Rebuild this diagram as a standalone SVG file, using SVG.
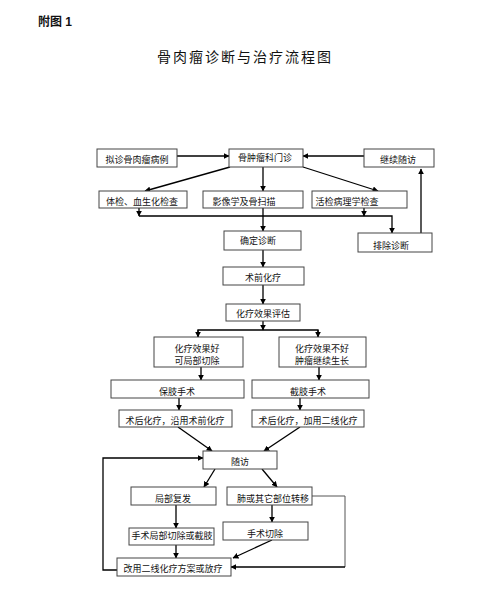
<svg xmlns="http://www.w3.org/2000/svg" width="491" height="609" viewBox="0 0 491 609">
<style>
.box{fill:#fff;stroke:#444;stroke-width:1}
.t{font-family:"Noto Sans CJK SC","Noto Sans",sans-serif;font-size:9px;fill:#111;text-anchor:middle}
.c{fill:none;stroke:#000;stroke-width:1.3}
.a{marker-end:url(#ah)}
</style>
<defs>
<marker id="ah" viewBox="0 0 10 10" refX="9" refY="5" markerWidth="6" markerHeight="6" markerUnits="userSpaceOnUse" orient="auto">
<path d="M0,0 L10,5 L0,10 z" fill="#000"/>
</marker>
</defs>
<rect width="491" height="609" fill="#fff"/>
<text x="38" y="26" style="font-family:'Liberation Sans','Noto Sans CJK SC',sans-serif;font-size:12px;font-weight:bold;fill:#111">附图 1</text>
<text x="245" y="62" class="t" style="font-size:14px;letter-spacing:2px">骨肉瘤诊断与治疗流程图</text>

<g id="connectors">
<line class="c a" x1="177" y1="156" x2="229" y2="156"/>
<line class="c a" x1="364" y1="156" x2="303" y2="156"/>
<line class="c a" x1="230" y1="167" x2="145" y2="191"/>
<line class="c a" x1="263" y1="167" x2="263" y2="191"/>
<line class="c a" x1="303" y1="167" x2="378" y2="191"/>
<line class="c a" x1="139" y1="208" x2="139" y2="216"/>
<line class="c a" x1="364" y1="208" x2="364" y2="216"/>
<polyline class="c a" points="139,216 392,216 392,233"/>
<line class="c a" x1="263" y1="208" x2="263" y2="231"/>
<line class="c a" x1="421" y1="233" x2="421" y2="169"/>
<line class="c a" x1="263" y1="250" x2="263" y2="267"/>
<line class="c a" x1="263" y1="285" x2="263" y2="304"/>
<line class="c a" x1="263" y1="321" x2="263" y2="330"/>
<polyline class="c" points="198,337 198,330 318,330 318,337"/>
<line class="c a" x1="198" y1="330" x2="198" y2="337"/>
<line class="c a" x1="318" y1="330" x2="318" y2="337"/>
<line class="c a" x1="201" y1="367" x2="201" y2="380"/>
<line class="c a" x1="319" y1="367" x2="319" y2="380"/>
<line class="c a" x1="179" y1="398" x2="179" y2="410"/>
<line class="c a" x1="300" y1="398" x2="300" y2="410"/>
<line class="c a" x1="178" y1="427" x2="212" y2="451"/>
<line class="c a" x1="300" y1="427" x2="264" y2="451"/>
<polyline class="c a" points="117,570 103,570 103,458 203,458"/>
<line class="c a" x1="215" y1="469" x2="204" y2="487"/>
<line class="c a" x1="262" y1="469" x2="277" y2="487"/>
<line class="c a" x1="176" y1="505" x2="176" y2="528"/>
<line class="c a" x1="272" y1="505" x2="272" y2="522"/>
<line class="c a" x1="176" y1="545" x2="176" y2="558"/>
<line class="c a" x1="272" y1="540" x2="233" y2="558"/>
<polyline class="c" points="312,496 345,496 345,567" style="stroke:#555;stroke-width:1"/>
<line class="c a" x1="345" y1="567" x2="231" y2="567" style="stroke-width:1.6"/>
</g>

<g id="n1"><rect class="box" x="97" y="149" width="80" height="18"/><text class="t" x="137" y="163">拟诊骨肉瘤病例</text></g>
<g id="n2"><rect class="box" x="229" y="149" width="74" height="18"/><text class="t" x="265" y="161">骨肿瘤科门诊</text></g>
<g id="n3"><rect class="box" x="364" y="149" width="70" height="18"/><text class="t" x="398" y="163">继续随访</text></g>
<g id="n4"><rect class="box" x="99" y="191" width="88" height="17"/><text class="t" x="142" y="205">体检、血生化检查</text></g>
<g id="n5"><rect class="box" x="203" y="191" width="100" height="17"/><text class="t" x="244" y="205">影像学及骨扫描</text></g>
<g id="n6"><rect class="box" x="312" y="191" width="95" height="17"/><text class="t" x="347" y="205">活检病理学检查</text></g>
<g id="n7"><rect class="box" x="224" y="231" width="77" height="19"/><text class="t" x="258" y="244">确定诊断</text></g>
<g id="n8"><rect class="box" x="358" y="233" width="74" height="19"/><text class="t" x="391" y="249">排除诊断</text></g>
<g id="n9"><rect class="box" x="223" y="267" width="81" height="18"/><text class="t" x="263" y="281">术前化疗</text></g>
<g id="n10"><rect class="box" x="226" y="304" width="74" height="17"/><text class="t" x="263" y="317">化疗效果评估</text></g>
<g id="n11"><rect class="box" x="154" y="337" width="89" height="30"/><text class="t" x="197" y="352">化疗效果好</text><text class="t" x="197" y="364">可局部切除</text></g>
<g id="n12"><rect class="box" x="279" y="337" width="87" height="30"/><text class="t" x="322" y="352">化疗效果不好</text><text class="t" x="322" y="364">肿瘤继续生长</text></g>
<g id="n13"><rect class="box" x="111" y="380" width="133" height="18"/><text class="t" x="177" y="395">保肢手术</text></g>
<g id="n14"><rect class="box" x="252" y="380" width="117" height="18"/><text class="t" x="308" y="395">截肢手术</text></g>
<g id="n15"><rect class="box" x="119" y="410" width="113" height="17"/><text class="t" x="175" y="424">术后化疗，沿用术前化疗</text></g>
<g id="n16"><rect class="box" x="252" y="410" width="112" height="17"/><text class="t" x="308" y="424">术后化疗，加用二线化疗</text></g>
<g id="n17"><rect class="box" x="203" y="451" width="74" height="18"/><text class="t" x="240" y="465">随访</text></g>
<g id="n18"><rect class="box" x="131" y="487" width="85" height="18"/><text class="t" x="173" y="502">局部复发</text></g>
<g id="n19"><rect class="box" x="227" y="487" width="85" height="18"/><text class="t" x="273" y="502">肺或其它部位转移</text></g>
<g id="n20"><rect class="box" x="129" y="528" width="85" height="17"/><text class="t" x="172" y="539">手术局部切除或截肢</text></g>
<g id="n21"><rect class="box" x="223" y="522" width="85" height="18"/><text class="t" x="265" y="537">手术切除</text></g>
<g id="n22"><rect class="box" x="117" y="558" width="114" height="18"/><text class="t" x="173" y="572">改用二线化疗方案或放疗</text></g>
</svg>
